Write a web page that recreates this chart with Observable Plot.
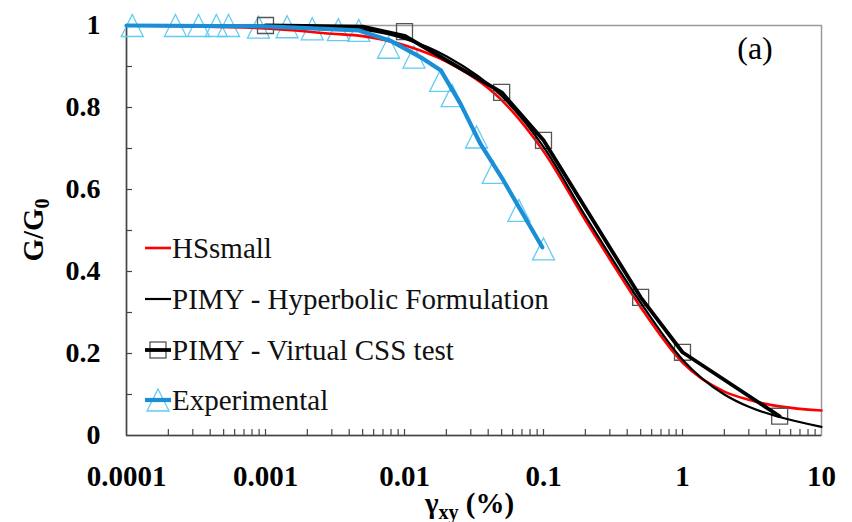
<!DOCTYPE html>
<html><head><meta charset="utf-8">
<script src="https://cdn.jsdelivr.net/npm/d3@7"></script>
<script src="https://cdn.jsdelivr.net/npm/@observablehq/plot@0.6"></script>
<style>
body{margin:0;background:#fff;}
#chart svg{display:block;}
</style></head><body><div id="chart"></div>
<script>
// ---- data ----
const xDomain = [0.0001, 10];
const yDomain = [0, 1];
const xTickValues = [0.0001, 0.001, 0.01, 0.1, 1, 10];
const xTickLabels = ["0.0001", "0.001", "0.01", "0.1", "1", "10"];
const yTickValues = [0, 0.2, 0.4, 0.6, 0.8, 1];
const yTickLabels = ["0", "0.2", "0.4", "0.6", "0.8", "1"];
const yMinorTicks = [0.1, 0.2, 0.3, 0.4, 0.5, 0.6, 0.7, 0.8, 0.9];
const xMinorTicks = [0.0002,0.0003,0.0004,0.0005,0.0006,0.0007,0.0008,0.0009,0.001,
  0.002,0.003,0.004,0.005,0.006,0.007,0.008,0.009,0.01,
  0.02,0.03,0.04,0.05,0.06,0.07,0.08,0.09,0.1,
  0.2,0.3,0.4,0.5,0.6,0.7,0.8,0.9,1,
  2,3,4,5,6,7,8,9];

const seriesNames = ["HSsmall", "PIMY - Hyperbolic Formulation", "PIMY - Virtual CSS test", "Experimental"];

const hsX = [0.0001, 0.001, 0.003, 0.005, 0.01, 0.02, 0.05, 0.1, 0.2, 0.3, 0.5, 1, 2, 3, 5, 10];
const hsY = [1.0, 0.993, 0.98, 0.974, 0.952, 0.912, 0.818, 0.693, 0.525, 0.43, 0.313, 0.178, 0.107, 0.087, 0.071, 0.061];

const hypX = [0.0001, 0.001, 0.003, 0.005, 0.01, 0.02, 0.05, 0.1, 0.2, 0.3, 0.5, 1, 2, 3, 5, 10];
const hypY = [1.0, 1.0, 0.996, 0.99, 0.968, 0.925, 0.828, 0.704, 0.535, 0.44, 0.324, 0.185, 0.1, 0.07, 0.045, 0.021];

const cssLineX = [0.001, 0.005, 0.01, 0.05, 0.1, 0.5, 1, 5];
const cssLineY = [1.0, 0.997, 0.975, 0.837, 0.72, 0.337, 0.203, 0.047];
const cssMarkX = [0.001, 0.01, 0.05, 0.1, 0.5, 1, 5];
const cssMarkY = [1.0, 0.985, 0.837, 0.72, 0.337, 0.203, 0.047];

const expX = [0.00011, 0.000225, 0.00033, 0.000443, 0.000542, 0.00089, 0.00143, 0.00217, 0.00334, 0.00469,
  0.00768, 0.0117, 0.0182, 0.022, 0.033, 0.0435, 0.0665, 0.1];
const expY = [1.0, 1.0, 1.0, 1.0, 1.0, 0.996, 0.997, 0.992, 0.99, 0.988,
  0.947, 0.923, 0.866, 0.829, 0.728, 0.642, 0.549, 0.455];

const expLineX = [0.0001, 0.001, 0.0047, 0.0079, 0.013, 0.0183, 0.0253, 0.0352, 0.0515, 0.098];
const expLineY = [1.0, 0.998, 0.988, 0.963, 0.923, 0.89, 0.809, 0.711, 0.622, 0.459];

// ---- build tables ----
const zip = (xs, ys) => xs.map((x, i) => ({x, y: ys[i]}));
const hs = zip(hsX, hsY), hyp = zip(hypX, hypY), cssL = zip(cssLineX, cssLineY),
      cssM = zip(cssMarkX, cssMarkY), expM = zip(expX, expY), expL = zip(expLineX, expLineY);

const W = 852, H = 522, mL = 126, mR = 31, mT = 25, mB = 87;
const pw = W - mL - mR, ph = H - mT - mB;

const RED = "#ff0000", BLUE = "#1a8ed6", CYAN = "#62ccf2", SQ = "#555555";
const tri = {draw(ctx, size) { const a = Math.sqrt(size / Math.PI); ctx.moveTo(0, -a); ctx.lineTo(a, a); ctx.lineTo(-a, a); ctx.closePath(); }};
const serif = "'Liberation Serif', 'Times New Roman', serif";

const chart = Plot.plot({
  width: W, height: H,
  marginLeft: mL, marginRight: mR, marginTop: mT, marginBottom: mB,
  style: {fontFamily: serif, background: "#fff", color: "#000"},
  x: {type: "log", domain: xDomain},
  y: {domain: yDomain},
  marks: [
    Plot.frame({stroke: "#9a9a9a", strokeWidth: 1.5}),
    Plot.ruleX([xDomain[0]], {stroke: "#444", strokeWidth: 1.5}),
    Plot.ruleY([yDomain[0]], {stroke: "#444", strokeWidth: 1.5}),
    Plot.tickY(yMinorTicks, {y: d => d, stroke: "#444", strokeWidth: 1.2, insetRight: pw - 6}),
    Plot.tickX(xMinorTicks, {x: d => d, stroke: "#444", strokeWidth: 1.2, insetTop: ph - 6}),
    Plot.axisY(yTickValues, {tickSize: 0, tickPadding: 26, fontSize: 28, fontWeight: "bold",
      tickFormat: d => yTickLabels[yTickValues.indexOf(d)], label: null}),
    Plot.axisX(xTickValues, {tickSize: 0, tickPadding: 30, fontSize: 29, fontWeight: "bold",
      tickFormat: d => xTickLabels[xTickValues.indexOf(d)], label: null}),
    Plot.dot(expM, {x: "x", y: "y", symbol: tri, r: 11, stroke: CYAN, strokeWidth: 1.3, fill: "none"}),
    Plot.line(hs, {x: "x", y: "y", stroke: RED, strokeWidth: 2.6, curve: "monotone-x"}),
    Plot.dot(cssM, {x: "x", y: "y", symbol: "square", r: 9, stroke: SQ, strokeWidth: 1.3, fill: "none"}),
    Plot.line(hyp, {x: "x", y: "y", stroke: "#000", strokeWidth: 2.2, curve: "monotone-x"}),
    Plot.line(cssL, {x: "x", y: "y", stroke: "#000", strokeWidth: 3.8}),
    Plot.line(expL, {x: "x", y: "y", stroke: BLUE, strokeWidth: 4.2, strokeLinecap: "round"})
  ]
});
document.getElementById("chart").appendChild(chart);

// ---- annotations: axis titles, panel tag, legend ----
const svg = d3.select(chart);
// y title
const yt = svg.append("text")
  .attr("transform", `translate(43,${mT + ph / 2}) rotate(-90)`)
  .attr("text-anchor", "middle").attr("font-family", serif).attr("font-weight", "bold")
  .attr("font-size", 29).attr("fill", "#000");
yt.append("tspan").text("G/G");
yt.append("tspan").attr("font-size", 20).attr("dy", 6).text("0");
// x title
const xt = svg.append("text")
  .attr("x", mL + pw / 2 - 4).attr("y", 513)
  .attr("text-anchor", "middle").attr("font-family", serif).attr("font-weight", "bold")
  .attr("font-size", 29).attr("fill", "#000");
xt.append("tspan").text("γ");
xt.append("tspan").attr("font-size", 20).attr("dy", 6).text("xy");
xt.append("tspan").attr("dy", -6).text(" (%)");
// panel tag
svg.append("text").attr("x", 755).attr("y", 59).attr("text-anchor", "middle")
  .attr("font-family", serif).attr("font-size", 32).attr("fill", "#000").text("(a)");

// legend
const legRows = [248, 299, 350, 400];
const lx0 = 145, lx1 = 171;
const leg = svg.append("g").attr("text-anchor", "start");
legRows.forEach((yy, i) => {
  const name = seriesNames[i];
  if (i === 0) leg.append("line").attr("x1", lx0).attr("x2", lx1).attr("y1", yy).attr("y2", yy).attr("stroke", RED).attr("stroke-width", 2.6);
  if (i === 1) leg.append("line").attr("x1", lx0).attr("x2", lx1).attr("y1", yy).attr("y2", yy).attr("stroke", "#000").attr("stroke-width", 2.2);
  if (i === 2) {
    leg.append("rect").attr("x", (lx0 + lx1) / 2 - 8).attr("y", yy - 8).attr("width", 16).attr("height", 16).attr("fill", "none").attr("stroke", SQ).attr("stroke-width", 1.3);
    leg.append("line").attr("x1", lx0).attr("x2", lx1).attr("y1", yy).attr("y2", yy).attr("stroke", "#000").attr("stroke-width", 3.8);
  }
  if (i === 3) {
    const cx = (lx0 + lx1) / 2, a = 11;
    leg.append("path").attr("d", `M${cx},${yy - a}L${cx + a},${yy + a}L${cx - a},${yy + a}Z`).attr("fill", "none").attr("stroke", CYAN).attr("stroke-width", 1.3);
    leg.append("line").attr("x1", lx0).attr("x2", lx1).attr("y1", yy).attr("y2", yy).attr("stroke", BLUE).attr("stroke-width", 4.2);
  }
  leg.append("text").attr("x", lx1 + 1).attr("y", yy + 10).attr("text-anchor", "start").attr("font-family", serif)
    .attr("font-size", 29).attr("fill", "#111").text(name);
});
</script></body></html>
